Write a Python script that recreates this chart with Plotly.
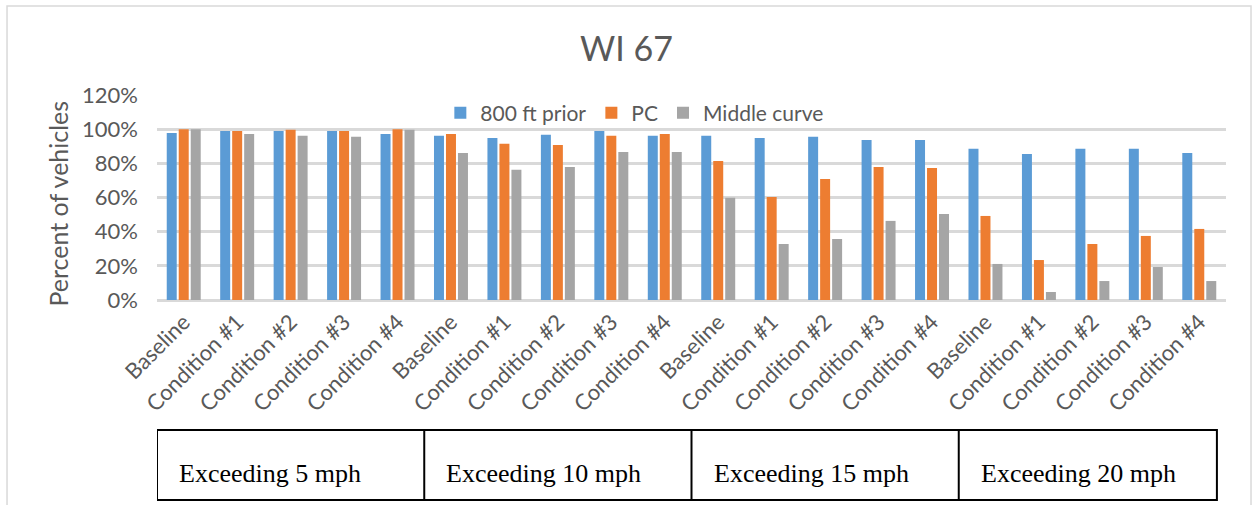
import plotly.graph_objects as go

# Category labels along the x axis (four speed thresholds x five conditions)
conditions = ["Baseline", "Condition #1", "Condition #2", "Condition #3", "Condition #4"]
groups = ["Exceeding 5 mph", "Exceeding 10 mph", "Exceeding 15 mph", "Exceeding 20 mph"]
categories = [c for _ in groups for c in conditions]

# Percent of vehicles (fraction) per location
prior_800ft = [0.978, 0.990, 0.990, 0.990, 0.972,
               0.961, 0.949, 0.967, 0.990, 0.961,
               0.961, 0.949, 0.955, 0.937, 0.937,
               0.885, 0.855, 0.885, 0.885, 0.861]
pc = [1.000, 0.990, 0.996, 0.990, 1.000,
      0.972, 0.914, 0.908, 0.961, 0.972,
      0.814, 0.603, 0.709, 0.779, 0.773,
      0.492, 0.234, 0.328, 0.375, 0.416]
middle_curve = [1.000, 0.972, 0.961, 0.955, 0.996,
                0.861, 0.762, 0.779, 0.867, 0.867,
                0.598, 0.328, 0.357, 0.463, 0.504,
                0.211, 0.047, 0.111, 0.193, 0.111]

series = [
    ("800 ft prior", prior_800ft, "#5B9BD5"),
    ("PC", pc, "#ED7D31"),
    ("Middle curve", middle_curve, "#A5A5A5"),
]

x_idx = list(range(len(categories)))

fig = go.Figure()
for name, vals, color in series:
    fig.add_trace(go.Bar(name=name, x=x_idx, y=vals, marker=dict(color=color, line=dict(width=0))))

FONT = "Lato"
TXT = "#595959"
GRID = "#D9D9D9"

fig.update_layout(
    width=1253, height=505,
    margin=dict(l=157, r=27, t=95, b=205),
    paper_bgcolor="white", plot_bgcolor="white",
    barmode="group", bargap=0.327, bargroupgap=0.167,
    font=dict(family=FONT, color=TXT),
    title=dict(text="WI 67", x=0.5, xref="container", y=1 - 49 / 505, yref="container",
               xanchor="center", yanchor="middle", font=dict(family=FONT, size=34, color=TXT)),
    legend=dict(orientation="h", x=0.447, y=0.912, xanchor="center", yanchor="middle",
                bgcolor="rgba(0,0,0,0)", font=dict(family=FONT, size=21, color=TXT),
                itemwidth=30, tracegroupgap=0),
    showlegend=True,
)

fig.update_xaxes(
    tickmode="array", tickvals=x_idx, ticktext=categories,
    tickangle=-45, tickfont=dict(family=FONT, size=22, color=TXT),
    ticklabelstandoff=4,
    range=[-0.5, len(categories) - 0.5],
    showgrid=False, zeroline=False, showline=False, ticks="",
)
fig.update_yaxes(
    range=[0, 1.2], tickvals=[0, 0.2, 0.4, 0.6, 0.8, 1.0, 1.2],
    tickformat=".0%", tickfont=dict(family=FONT, size=22, color=TXT),
    ticklabelstandoff=18,
    showgrid=True, gridcolor=GRID, gridwidth=2.5,
    zeroline=True, zerolinecolor=GRID, zerolinewidth=2.5,
    showline=False, ticks="",
)

# Y axis title, placed as rotated text left of the tick labels
fig.add_annotation(text="Percent of vehicles", xref="paper", yref="paper",
                   x=-0.0921, y=0.468, xanchor="center", yanchor="middle",
                   textangle=-90, showarrow=False,
                   font=dict(family=FONT, size=25, color=TXT))

# Outer chart border
fig.add_shape(type="rect", xref="paper", yref="paper",
              x0=-0.1403, x1=1.0234, y0=-1.2, y1=1.434,
              line=dict(color=GRID, width=1.5), fillcolor="rgba(0,0,0,0)", layer="below")

# Group table below the category labels
n_per = len(conditions)
table_top, table_bot = -0.634, -0.9756
table_right = len(categories) - 0.67
fig.add_shape(type="rect", xref="x", yref="paper",
              x0=-0.5, x1=table_right, y0=table_bot, y1=table_top,
              line=dict(color="black", width=2))
for g in range(1, len(groups)):
    xb = g * n_per - 0.5
    fig.add_shape(type="line", xref="x", yref="paper",
                  x0=xb, x1=xb, y0=table_bot, y1=table_top,
                  line=dict(color="black", width=2))
for g, label in enumerate(groups):
    fig.add_annotation(text=label, xref="x", yref="paper",
                       x=g * n_per - 0.5, y=-0.845, xanchor="left", yanchor="middle",
                       xshift=20, showarrow=False,
                       font=dict(family="Liberation Serif", size=26, color="black"))

fig.write_html("out.html")
